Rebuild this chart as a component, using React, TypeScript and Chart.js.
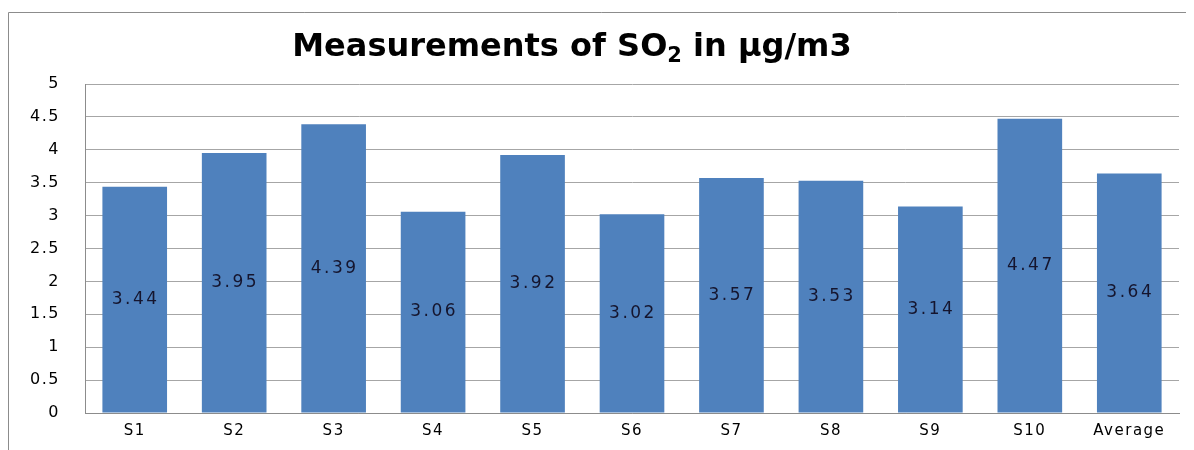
import React, { useEffect, useRef } from "react";
import { Chart, registerables } from "chart.js";

Chart.register(...registerables);

const categories = ["S1", "S2", "S3", "S4", "S5", "S6", "S7", "S8", "S9", "S10", "Average"];
const so2Values = [3.44, 3.95, 4.39, 3.06, 3.92, 3.02, 3.57, 3.53, 3.14, 4.47, 3.64];
const valueLabels = ["3.44", "3.95", "4.39", "3.06", "3.92", "3.02", "3.57", "3.53", "3.14", "4.47", "3.64"];
const titleParts = ["Measurements of SO", "2", " in µg/m3"];

const FONT = "'DejaVu Sans', 'Open Sans', sans-serif";

const framePlugin = {
  id: "frame",
  beforeDraw(chart: any) {
    const ctx = chart.ctx;
    ctx.save();
    ctx.strokeStyle = "#8c8c8c";
    ctx.lineWidth = 1;
    ctx.beginPath();
    ctx.moveTo(0.5, chart.height);
    ctx.lineTo(0.5, 4.5);
    ctx.lineTo(chart.width, 4.5);
    ctx.stroke();
    ctx.restore();
    (ctx as any).letterSpacing = "1.5px";
  },
};

const titlePlugin = {
  id: "subTitle",
  afterDraw(chart: any) {
    const ctx = chart.ctx;
    ctx.save();
    (ctx as any).letterSpacing = "0px";
    const mainFont = `bold 32px ${FONT}`;
    const subFont = `bold 21px ${FONT}`;
    ctx.font = mainFont;
    const w0 = ctx.measureText(titleParts[0]).width;
    const w2 = ctx.measureText(titleParts[2]).width;
    ctx.font = subFont;
    const w1 = ctx.measureText(titleParts[1]).width;
    const total = w0 + w1 + w2;
    const cx = 564;
    const base = 48;
    let x = cx - total / 2;
    ctx.fillStyle = "#000";
    ctx.textBaseline = "alphabetic";
    ctx.textAlign = "left";
    ctx.font = mainFont;
    ctx.fillText(titleParts[0], x, base);
    x += w0;
    ctx.font = subFont;
    ctx.fillText(titleParts[1], x, base + 6);
    x += w1;
    ctx.font = mainFont;
    ctx.fillText(titleParts[2], x, base);
    ctx.restore();
  },
};

const labelPlugin = {
  id: "barLabels",
  afterDatasetsDraw(chart: any) {
    const ctx = chart.ctx;
    const meta = chart.getDatasetMeta(0);
    ctx.save();
    ctx.font = `17px ${FONT}`;
    (ctx as any).letterSpacing = "2.5px";
    ctx.fillStyle = "#15152e";
    ctx.textAlign = "center";
    ctx.textBaseline = "middle";
    meta.data.forEach((bar: any, i: number) => {
      const p = bar.getProps(["x", "y", "base"], true);
      ctx.fillText(valueLabels[i], p.x + 1, (p.y + p.base) / 2);
    });
    ctx.restore();
  },
};

export default function App() {
  const ref = useRef<HTMLCanvasElement>(null);
  useEffect(() => {
    if (!ref.current) return;
    const chart = new Chart(ref.current, {
      type: "bar",
      data: {
        labels: categories,
        datasets: [
          {
            data: so2Values,
            backgroundColor: "#4F81BD",
            borderWidth: 0,
            categoryPercentage: 1,
            barPercentage: 0.65,
          },
        ],
      },
      options: {
        animation: false,
        responsive: false,
        maintainAspectRatio: false,
        layout: { padding: { top: 76, right: 15, bottom: 0, left: 0 } },
        plugins: {
          legend: { display: false },
          title: { display: false },
          tooltip: { enabled: false },
        },
        scales: {
          x: {
            grid: { display: false, drawTicks: false },
            border: { display: true, color: "#8c8c8c", width: 1 },
            ticks: {
              color: "#000",
              font: { family: FONT, size: 15 },
              padding: 9,
              maxRotation: 0,
              autoSkip: false,
            },
            afterFit(s: any) {
              s.height = 37;
            },
          },
          y: {
            min: 0,
            max: 5,
            grid: { color: "#a6a6a6", drawTicks: false },
            border: { display: true, color: "#8c8c8c", width: 1 },
            ticks: {
              stepSize: 0.5,
              color: "#000",
              font: { family: FONT, size: 16 },
              padding: 25,
              callback: (v: any) => String(Number(v)),
            },
            afterFit(s: any) {
              s.width = 77;
            },
          },
        },
      },
      plugins: [framePlugin, titlePlugin, labelPlugin],
    });
    return () => chart.destroy();
  }, []);
  return (
    <div style={{ width: 1186, height: 442 }}>
      <canvas ref={ref} width={1186} height={442} style={{ display: "block" }} />
    </div>
  );
}
